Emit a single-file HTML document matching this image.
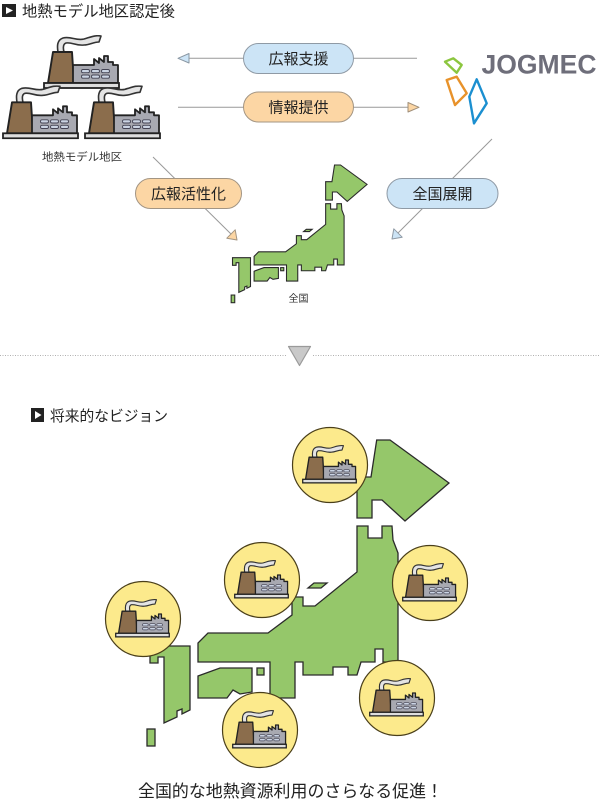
<!DOCTYPE html>
<html><head><meta charset="utf-8">
<style>
html,body{margin:0;padding:0;background:#fff;}
svg{display:block;}
text{font-family:"Liberation Sans","Noto Sans CJK JP",sans-serif;}
</style></head>
<body>
<svg width="600" height="802" viewBox="0 0 600 802" xmlns="http://www.w3.org/2000/svg">
<defs>
  <symbol id="f" viewBox="0 0 77 54">
    <path d="M15,17 C14,11 14,5 20,3 C28,1 33,6 41,4 C48,2 52,0 58,1 L56,7 C50,7 47,10 41,10 C33,11 29,7 23,8 C20,9 20,13 21,17 Z" fill="#e4e4e4" stroke="#333" stroke-width="1.6" stroke-linejoin="round"/>
    <polygon points="10,17 29,17 31,48 5,48" fill="#8b6d4c" stroke="#222" stroke-width="1.9" stroke-linejoin="round"/>
    <polygon points="30,48 30,30 51,30 51,24 56,28 56,23 61,27 61,21 65,21 65,27 70,27 70,30 75,30 75,48" fill="#a8a9b1" stroke="#222" stroke-width="1.8" stroke-linejoin="round"/>
    <g fill="#cbd4e4" stroke="#445" stroke-width="0.9">
      <rect x="38.5" y="34.5" width="8" height="3.2" rx="1.5"/>
      <rect x="48.5" y="34.5" width="8" height="3.2" rx="1.5"/>
      <rect x="58.5" y="34.5" width="8" height="3.2" rx="1.5"/>
      <rect x="38.5" y="40" width="8" height="3.2" rx="1.5"/>
      <rect x="48.5" y="40" width="8" height="3.2" rx="1.5"/>
      <rect x="58.5" y="40" width="8" height="3.2" rx="1.5"/>
    </g>
    <rect x="1" y="48" width="75" height="5" fill="#dedede" stroke="#222" stroke-width="1.8"/>
  </symbol>
  <g id="jp">
    <polygon points="376.7,440 390,440 449,483 405,521 382,500 372,500 372,518 357,518 357,477 371,477"/>
    <polygon points="357,526 368,526 368,538 382,538 382,526 392,526 393,540 398,553 398,662 383,662 383,649 375,649 375,662 361,662 357,675 348,675 348,667 333,667 333,675 303,675 303,662 295,662 295,698 270,698 270,662 198,662 198,643 208,633 268,633 292,615 292,597 303,597 303,606 315,606 357,572"/>
    <polygon points="198,676 220,668 252,668 252,692 240,694 233,690 227,698 198,698"/>
    <rect x="257" y="668" width="7" height="7"/>
    <polygon points="308,588 314,583 327,583 321,588"/>
    <polygon points="150,646 190,646 190,710 182,714 182,709 177,711 177,717 164,723 164,657 158,657 158,663 150,663"/>
    <rect x="147" y="729" width="8" height="17"/>
  </g>
</defs>

<!-- Title 1 -->
<rect x="2" y="4" width="14" height="13" fill="#222"/>
<polygon points="6,7 6,14 13,10.5" fill="#fff"/>
<text x="22" y="16.5" font-size="15.5" fill="#222" textLength="153" lengthAdjust="spacingAndGlyphs">地熱モデル地区認定後</text>

<!-- factories section 1 -->
<use href="#f" x="43" y="35" width="77" height="54"/>
<use href="#f" x="2" y="85.3" width="77" height="54"/>
<use href="#f" x="84" y="85.3" width="77" height="54"/>
<text x="42" y="160.5" font-size="11" fill="#333" textLength="80" lengthAdjust="spacingAndGlyphs">地熱モデル地区</text>

<!-- horizontal arrows -->
<line x1="188" y1="58.3" x2="417" y2="58.3" stroke="#999" stroke-width="1"/>
<polygon points="178,58.3 189,53.5 189,63" fill="#cce4f6" stroke="#8a97a3" stroke-width="1" stroke-linejoin="round"/>
<line x1="178" y1="107.3" x2="408" y2="107.3" stroke="#999" stroke-width="1"/>
<polygon points="419,107.3 408,102.5 408,112" fill="#fcd6a4" stroke="#a08f7a" stroke-width="1" stroke-linejoin="round"/>

<rect x="243.5" y="43.5" width="110" height="30" rx="15" fill="#cce4f6" stroke="#8f9aa5" stroke-width="1"/>
<text x="298.5" y="64" font-size="15" fill="#222" text-anchor="middle">広報支援</text>
<rect x="243.5" y="92" width="110" height="30" rx="15" fill="#fcd6a4" stroke="#a39583" stroke-width="1"/>
<text x="298.5" y="112.5" font-size="15" fill="#222" text-anchor="middle">情報提供</text>

<!-- diagonal arrows -->
<line x1="153" y1="157" x2="231" y2="234" stroke="#999" stroke-width="1"/>
<polygon points="237,240 235.2,229.8 226.8,238.2" fill="#fcd6a4" stroke="#a39583" stroke-width="1" stroke-linejoin="round"/>
<line x1="492" y1="139" x2="398" y2="233" stroke="#999" stroke-width="1"/>
<polygon points="392,239 402.2,237.2 393.8,228.8" fill="#cce4f6" stroke="#8f9aa5" stroke-width="1" stroke-linejoin="round"/>

<rect x="135.5" y="178.5" width="106" height="30" rx="15" fill="#fcd6a4" stroke="#a39583" stroke-width="1"/>
<text x="188.5" y="199" font-size="15" fill="#222" text-anchor="middle">広報活性化</text>
<rect x="387" y="178.5" width="111" height="30" rx="15" fill="#cce4f6" stroke="#8f9aa5" stroke-width="1"/>
<text x="442.5" y="199" font-size="15" fill="#222" text-anchor="middle">全国展開</text>

<!-- JOGMEC logo -->
<polygon points="445,61.7 453.3,58.3 461.7,65 456.7,72.7" fill="#fff" stroke="#8cc63f" stroke-width="2.4" stroke-linejoin="round"/>
<polygon points="446.7,80 456.7,76.7 466.7,93.3 455,105" fill="#fff" stroke="#e8922a" stroke-width="2.4" stroke-linejoin="round"/>
<polygon points="476.7,79.3 486.7,103.3 474,123.3 469.3,96.7" fill="#fff" stroke="#1b8fd0" stroke-width="2.4" stroke-linejoin="round"/>
<text x="481.5" y="73.3" font-size="26.5" font-weight="bold" fill="#6e6e7a" textLength="115" lengthAdjust="spacingAndGlyphs">JOGMEC</text>

<!-- small map -->
<use href="#jp" transform="translate(165,-33) scale(0.45)" fill="#95c76a" stroke="#2a2a2a" stroke-width="2.4" stroke-linejoin="miter"/>
<text x="298.5" y="302" font-size="10" fill="#333" text-anchor="middle">全国</text>

<!-- divider -->
<line x1="0" y1="355.5" x2="286" y2="355.5" stroke="#b0b0b0" stroke-width="1" stroke-dasharray="1,1.5"/>
<line x1="313" y1="355.5" x2="600" y2="355.5" stroke="#b0b0b0" stroke-width="1" stroke-dasharray="1,1.5"/>
<polygon points="288.5,346.5 310.5,346.5 299.5,365.5" fill="#c9c9c9" stroke="#9a9a9a" stroke-width="1.2" stroke-linejoin="round"/>

<!-- Title 2 -->
<rect x="31" y="408" width="13" height="14" fill="#222"/>
<polygon points="35,411 35,419 41.5,415" fill="#fff"/>
<text x="50" y="421" font-size="14.8" fill="#222" textLength="118" lengthAdjust="spacingAndGlyphs">将来的なビジョン</text>

<!-- big map -->
<use href="#jp" fill="#95c76a" stroke="#2a2a2a" stroke-width="1.3"/>

<!-- circles -->
<g fill="#fcea8c" stroke="#4a3f1a" stroke-width="1.2">
  <circle cx="330" cy="465" r="37.5"/>
  <circle cx="262" cy="580" r="37.5"/>
  <circle cx="430" cy="583" r="37.5"/>
  <circle cx="143" cy="619" r="37.5"/>
  <circle cx="397" cy="698" r="37.5"/>
  <circle cx="260" cy="730" r="37.5"/>
</g>
<use href="#f" x="302" y="445" width="55" height="38.6"/>
<use href="#f" x="234" y="560" width="55" height="38.6"/>
<use href="#f" x="402" y="563" width="55" height="38.6"/>
<use href="#f" x="115" y="599" width="55" height="38.6"/>
<use href="#f" x="369" y="678" width="55" height="38.6"/>
<use href="#f" x="232" y="710" width="55" height="38.6"/>

<!-- bottom text -->
<text x="138" y="797" font-size="17" fill="#222" textLength="305" lengthAdjust="spacingAndGlyphs">全国的な地熱資源利用のさらなる促進！</text>
</svg>
</body></html>
